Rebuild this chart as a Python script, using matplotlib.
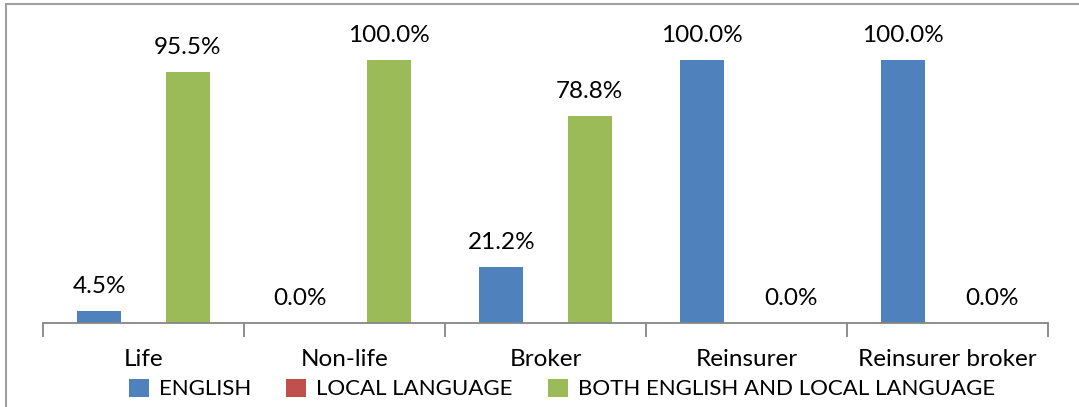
import matplotlib.pyplot as plt
import numpy as np
from matplotlib.patches import Rectangle

# data
categories = ['Life', 'Non-life', 'Broker', 'Reinsurer', 'Reinsurer broker']
english = [0.045, 0.0, 0.212, 1.0, 1.0]
local_language = [0.0, 0.0, 0.0, 0.0, 0.0]
both = [0.955, 1.0, 0.788, 0.0, 0.0]
series_names = ['ENGLISH', 'LOCAL LANGUAGE', 'BOTH ENGLISH AND LOCAL LANGUAGE']
colors = ['#4F81BD', '#C0504D', '#9BBB59']

plt.rcParams['font.family'] = ['Lato', 'DejaVu Sans']

W, H = 1079, 407
fig = plt.figure(figsize=(W / 100, H / 100), dpi=100)

# axes box in pixels: left 43, right 1048, baseline 323, top for ylim 1.2
left, right, base = 43, 1048, 323
top = base - 1.2 * 263
ax = fig.add_axes([left / W, 1 - base / H, (right - left) / W, (base - top) / H])

x = np.arange(len(categories))
width = 0.22
offsets = [-0.22, 0.0, 0.22]
all_series = [english, local_language, both]

for vals, off, col, name in zip(all_series, offsets, colors, series_names):
    bars = ax.bar(x + off, vals, width, color=col, label=name)
    if name != 'LOCAL LANGUAGE':
        for b, v in zip(bars, vals):
            ax.text(b.get_x() + b.get_width() / 2, v + 0.068, f'{v * 100:.1f}%',
                    ha='center', va='baseline', fontsize=17.5)

ax.set_xlim(-0.5, len(categories) - 0.5)
ax.set_ylim(0, 1.2)
ax.set_yticks([])
for s in ['top', 'right', 'left']:
    ax.spines[s].set_visible(False)
ax.spines['bottom'].set_color('#868686')
ax.spines['bottom'].set_linewidth(1.3)

ax.set_xticks(np.arange(len(categories) + 1) - 0.5, minor=False)
ax.set_xticklabels([])
ax.tick_params(axis='x', length=10, width=1.3, color='#868686')
for i, c in enumerate(categories):
    ax.text(i, -0.165, c, ha='center', va='baseline', fontsize=17.5,
            transform=ax.transData, clip_on=False)

handles, labels = ax.get_legend_handles_labels()
fig.legend(handles, labels, loc='center', bbox_to_anchor=(562 / W, 1 - 389 / H),
           ncol=3, frameon=False, fontsize=16, handlelength=0.9, handleheight=0.9,
           handletextpad=0.45, columnspacing=1.6, borderpad=0)

# outer chart border (only top and left edges are visible in the crop)
fig.patches.append(Rectangle((6 / W, -0.1), 1.2, 1 - 4 / H + 0.1, transform=fig.transFigure,
                             fill=False, edgecolor='#A0A0A0', linewidth=1.5))

fig.savefig('out.png', dpi=100)
